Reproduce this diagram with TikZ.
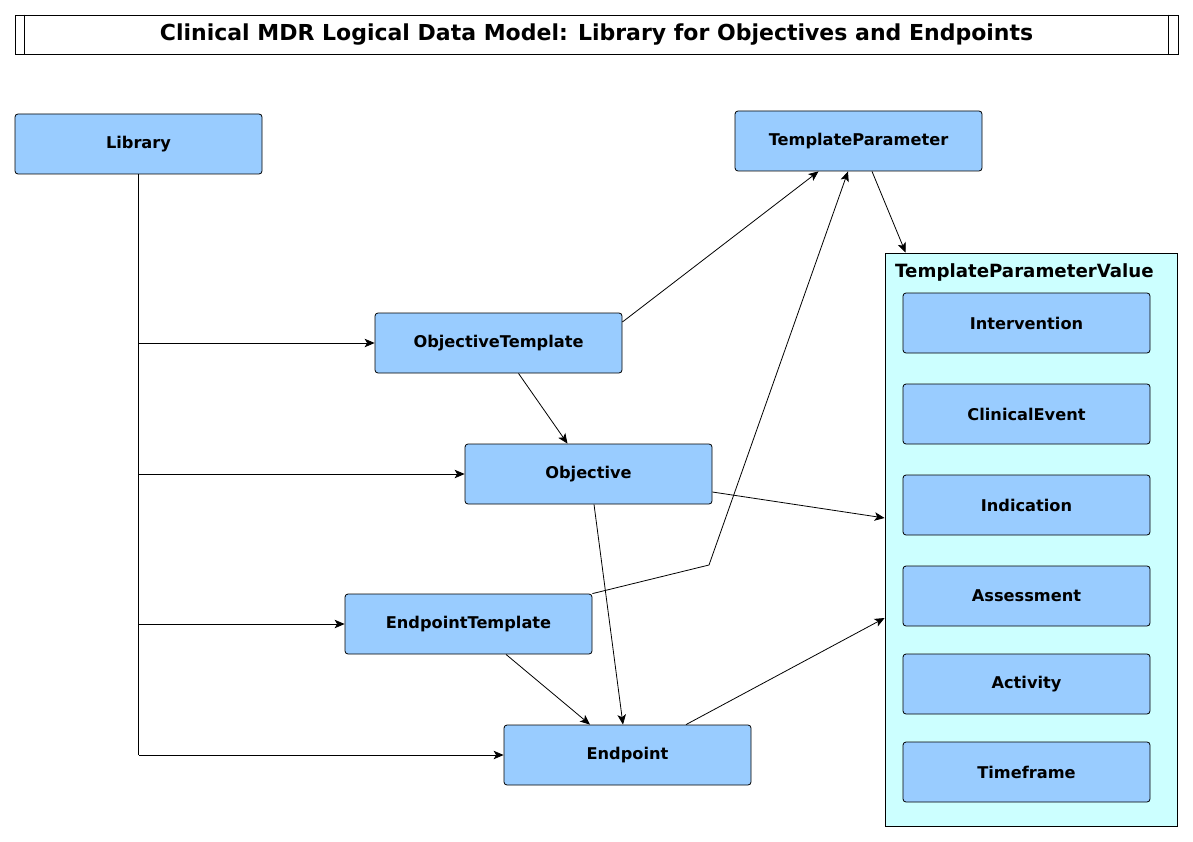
\documentclass[tikz,border=0pt]{standalone}
\usepackage{fontspec}
\setmainfont{DejaVu Sans}
\usepackage{tikz}
\usetikzlibrary{arrows.meta,positioning}
\definecolor{ModelBlue}{HTML}{99CCFF}
\definecolor{ModelAqua}{HTML}{CCFFFF}
\tikzset{
  flowarrow/.style={-{Stealth[length=10pt,width=8.5pt,inset=2.5pt]},line width=0.8pt,draw=black},
  plainline/.style={line width=0.8pt,draw=black},
  entity/.style={draw=black,line width=0.8pt,rounded corners=3pt,fill=ModelBlue,align=center,minimum width=247pt,minimum height=60pt,font=\fontsize{16.2}{19}\selectfont\bfseries},
  group/.style={draw=black,line width=0.8pt,fill=ModelAqua,minimum width=292pt,minimum height=573pt,inner sep=0pt},
  heading/.style={draw=black,line width=0.8pt,minimum width=1163pt,minimum height=39pt,font=\fontsize{22}{26}\selectfont\bfseries}
}
\begin{document}
\begin{tikzpicture}[x=1pt,y=-1pt]
  \useasboundingbox (0,0) rectangle (1193,842);

  % Title banner.
  \node[heading] (title) at (596.5,34.5)
    {Clinical MDR Logical Data Model: Library for Objectives and Endpoints};
  \draw[plainline] ([xshift=10pt]title.north west) -- ([xshift=10pt]title.south west);
  \draw[plainline] ([xshift=-10pt]title.north east) -- ([xshift=-10pt]title.south east);

  % Library and its templates / instances.
  \node[entity] (library) at (138.5,144) {Library};
  \node[entity] (tparam) at (858.5,141) {TemplateParameter};
  \node[entity] (otpl) at (498.5,343) {ObjectiveTemplate};
  \node[entity] (objective) at (588.5,474) {Objective};
  \node[entity] (etpl) at (468.5,624) {EndpointTemplate};
  \node[entity] (endpoint) at (627.5,755) {Endpoint};

  % Parameter value group.
  \node[group] (tpvalue) at (1031,539.5) {};
  \node[anchor=north west,inner sep=0pt,font=\fontsize{18.2}{21}\selectfont\bfseries]
    (tpvlabel) at (895,263) {TemplateParameterValue};
  \node[entity] (intervention) at (1026.5,323) {Intervention};
  \node[entity] (clinevent) at (1026.5,414) {ClinicalEvent};
  \node[entity] (indication) at (1026.5,505) {Indication};
  \node[entity] (assessment) at (1026.5,596) {Assessment};
  \node[entity] (activity) at (1026.5,684) {Activity};
  \node[entity] (timeframe) at (1026.5,772) {Timeframe};

  % Library ownership lines.
  \coordinate (libend) at (library.south |- endpoint.west);
  \draw[plainline] (library.south) -- (libend);
  \draw[flowarrow] (library.south |- otpl.west) -- (otpl.west);
  \draw[flowarrow] (library.south |- objective.west) -- (objective.west);
  \draw[flowarrow] (library.south |- etpl.west) -- (etpl.west);
  \draw[flowarrow] (libend) -- (endpoint.west);

  % Template and instance links.
  \draw[flowarrow] ([yshift=21pt]otpl.east) -- ([xshift=-40pt]tparam.south);
  \draw[flowarrow] ([xshift=20pt]otpl.south) -- ([xshift=-21pt]objective.north);
  \draw[flowarrow] ([yshift=-18pt]objective.east) -- ([yshift=21.5pt]tpvalue.west);
  \draw[flowarrow] ([xshift=5.5pt]objective.south) -- ([xshift=-4.5pt]endpoint.north);
  \coordinate (bend) at (709,565);
  \draw[flowarrow] (etpl.north east) -- (bend) -- ([xshift=-10.5pt]tparam.south);
  \draw[flowarrow] ([xshift=37.5pt]etpl.south) -- ([xshift=-37.5pt]endpoint.north);
  \draw[flowarrow] ([xshift=58.5pt]endpoint.north) -- ([yshift=-78.5pt]tpvalue.west);
  \draw[flowarrow] ([xshift=13.5pt]tparam.south) -- ([xshift=21pt]tpvalue.north west);
\end{tikzpicture}
\end{document}
